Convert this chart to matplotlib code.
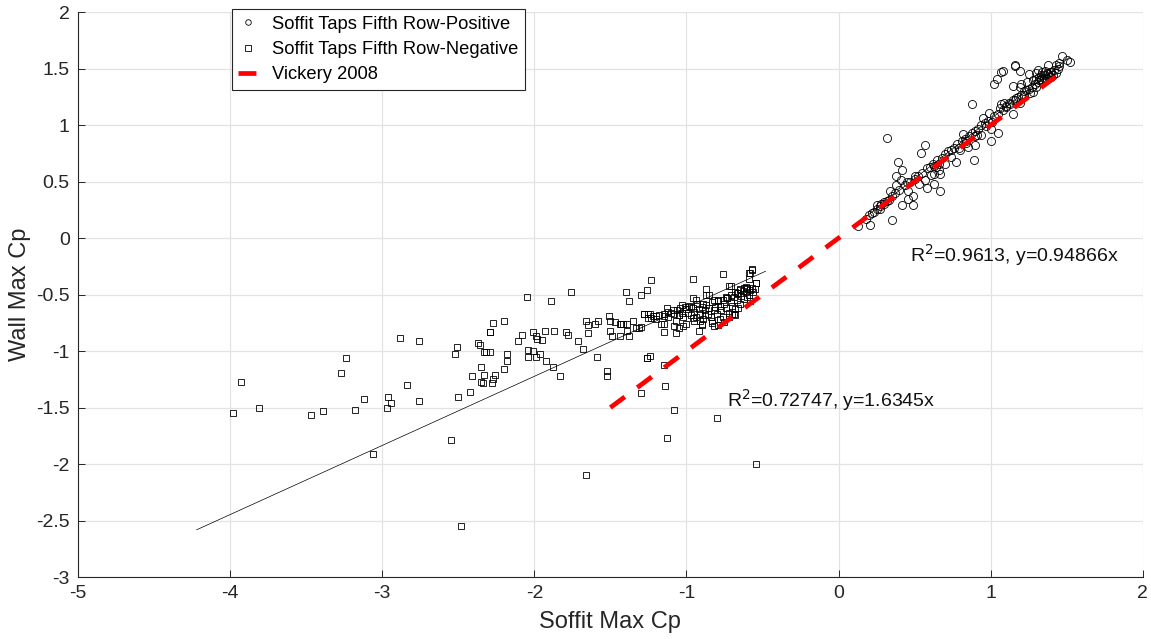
import matplotlib
matplotlib.use("Agg")
import matplotlib.pyplot as plt
import numpy as np

plt.rcParams['font.family'] = ['Liberation Sans', 'DejaVu Sans']

# ---- data ----
pos_x = [0.13, 0.21, 0.35, 0.32, 0.39, 0.42, 0.38, 0.41, 0.38, 0.45, 0.46, 0.46, 0.49, 0.42, 0.49,
         0.34, 0.33, 0.28, 0.25, 0.23, 0.27, 0.30, 0.54, 0.57, 0.53, 0.50, 0.58, 0.63, 0.67, 0.57,
         0.61, 0.64, 0.66, 0.67, 0.63, 0.77, 0.89, 0.80, 0.82, 0.84, 0.85, 0.90, 0.90, 0.94, 0.88,
         1.00, 1.05, 0.97, 1.00, 0.95, 0.99, 1.01, 1.06, 1.07, 1.09, 1.15, 1.12, 1.16, 1.19, 1.15,
         1.19, 1.02, 1.04, 1.07, 1.08, 1.16, 1.16, 1.19, 1.25, 1.24, 1.28, 1.30, 1.31, 1.33, 1.34,
         1.38, 1.37, 1.39, 1.40, 1.43, 1.45, 1.47, 1.52, 1.50, 1.32, 1.30, 1.23, 1.22, 1.26, 1.28,
         1.20, 1.17, 1.10,
         0.55, 0.58, 0.60, 0.62, 0.63, 0.65, 0.68, 0.70, 0.72, 0.74, 0.76, 0.78, 0.79, 0.81, 0.83,
         0.86, 0.88, 0.90, 0.92, 0.94, 0.96, 0.98, 1.02, 1.05, 1.08, 1.10, 1.13, 1.15, 1.18, 1.20,
         1.22, 1.25, 1.27, 1.29, 1.31, 1.33, 1.35, 1.36, 1.38, 1.40, 1.42, 1.44, 1.45, 0.50, 0.52,
         0.47, 0.44, 0.40, 0.37, 0.35, 0.32, 0.30, 0.27, 0.25, 0.22, 0.20, 0.18, 1.34, 1.37, 1.39,
         1.41, 1.43, 1.36, 1.32, 1.30, 0.66, 0.70, 0.74, 0.84, 0.91]
pos_y = [0.11, 0.12, 0.16, 0.89, 0.67, 0.60, 0.55, 0.51, 0.47, 0.50, 0.42, 0.35, 0.37, 0.29, 0.29,
         0.42, 0.34, 0.30, 0.29, 0.23, 0.26, 0.32, 0.75, 0.82, 0.48, 0.55, 0.44, 0.48, 0.42, 0.51,
         0.56, 0.63, 0.66, 0.57, 0.57, 0.67, 0.69, 0.78, 0.92, 0.84, 0.81, 0.82, 0.90, 0.91, 1.19,
         0.86, 0.93, 0.99, 0.97, 1.06, 1.11, 1.03, 1.15, 1.19, 1.20, 1.10, 1.20, 1.22, 1.20, 1.35,
         1.34, 1.36, 1.41, 1.47, 1.48, 1.53, 1.52, 1.48, 1.45, 1.38, 1.40, 1.46, 1.49, 1.44, 1.47,
         1.53, 1.46, 1.47, 1.43, 1.53, 1.55, 1.61, 1.56, 1.58, 1.40, 1.34, 1.31, 1.27, 1.28, 1.29,
         1.36, 1.24, 1.16,
         0.58, 0.62, 0.63, 0.66, 0.64, 0.69, 0.71, 0.74, 0.77, 0.78, 0.80, 0.83, 0.80, 0.86, 0.88,
         0.90, 0.93, 0.95, 0.97, 1.00, 1.02, 1.04, 1.08, 1.10, 1.13, 1.17, 1.19, 1.22, 1.25, 1.27,
         1.30, 1.32, 1.34, 1.36, 1.38, 1.41, 1.42, 1.44, 1.45, 1.47, 1.49, 1.50, 1.52, 0.52, 0.55,
         0.50, 0.47, 0.43, 0.40, 0.37, 0.33, 0.30, 0.28, 0.26, 0.22, 0.20, 0.17, 1.39, 1.41, 1.43,
         1.44, 1.46, 1.48, 1.43, 1.41, 0.60, 0.66, 0.72, 0.86, 0.91]

neg_x = [-3.98, -3.93, -3.81, -3.47, -3.39, -3.27, -3.24, -3.18, -3.12, -3.06, -2.96, -2.97, -2.94,
         -2.88, -2.84, -2.76, -2.76, -2.55, -2.52, -2.51, -2.50, -2.48, -2.41, -2.42, -2.37, -2.36,
         -2.35, -2.33, -2.32, -2.33, -2.35, -2.34, -2.29,
         -2.05, -1.89, -1.76, -1.40, -1.38, -1.30, -1.26, -2.27, -2.20, -2.29, -2.11, -2.08, -2.01,
         -1.99, -1.98, -1.95, -1.93, -1.87, -1.79, -1.78, -1.71, -1.68, -1.66, -1.65, -1.65, -1.60,
         -1.58, -1.51, -1.50, -1.47, -1.50, -1.49, -1.44, -1.43, -1.42, -1.39, -1.35, -1.44, -1.39,
         -1.38, -1.33, -1.31, -1.30, -1.28, -1.25, -1.25, -2.29, -2.18, -2.18, -2.20, -2.26, -2.27,
         -2.28, -2.04, -2.01, -2.04, -1.99, -1.96, -1.92, -1.88, -1.83, -1.59, -1.52, -1.52, -1.30,
         -1.26,
         -1.66, -1.26, -1.24, -1.15, -1.14, -1.08, -1.13, -0.80, -0.54,
         -1.23, -0.96, -0.76, -0.57, -0.58, -0.54, -0.87, -0.72, -0.96,
         -1.10, -1.08, -1.06, -1.05, -1.04, -1.03, -1.02, -1.00, -0.99, -0.98, -0.97, -0.96, -0.95,
         -0.94, -0.93, -0.92, -0.91, -0.90, -0.89, -0.88, -0.87, -0.86, -0.85, -0.84, -0.83, -0.82,
         -0.81, -0.80, -0.79, -0.78, -0.77, -0.76, -0.75, -0.74, -0.73, -0.72, -0.71, -0.70, -0.69,
         -0.68, -0.67, -0.66, -0.65, -0.64, -0.63, -0.62, -0.61, -0.60, -0.59, -0.58, -0.57, -0.56,
         -0.55, -0.65, -0.68, -0.71, -0.74, -0.62, -0.60, -0.70, -0.78, -0.83, -0.90, -1.07, -1.12,
         -1.15, -1.13, -1.18, -1.20, -1.22, -1.17, -1.05, -0.92, -0.82, -0.75, -0.88, -0.95, -1.00,
         -0.58, -0.66, -0.72,
         -0.87, -0.85, -0.54, -0.59, -0.57, -0.59, -0.69, -0.68, -0.79, -0.90, -1.08, -1.02, -1.07,
         -1.15, -1.28, -1.24, -1.23, -1.20, -1.15, -1.15, -1.12, -1.09, -1.05, -1.03, -1.01, -0.97,
         -0.94, -0.89, -0.96, -0.91, -0.83, -0.82, -0.79, -0.76, -0.73, -0.71, -0.65, -0.61, -0.60,
         -0.67]
neg_y = [-1.55, -1.27, -1.50, -1.57, -1.53, -1.19, -1.06, -1.52, -1.42, -1.91, -1.41, -1.50, -1.46,
         -0.88, -1.30, -0.91, -1.44, -1.79, -1.03, -0.96, -1.41, -2.55, -1.22, -1.36, -0.93, -0.95,
         -1.14, -1.01, -1.01, -1.21, -1.27, -1.28, -0.83,
         -0.52, -0.56, -0.48, -0.48, -0.56, -0.50, -0.46, -0.75, -0.73, -0.83, -0.91, -0.86, -0.83,
         -0.87, -0.89, -0.90, -0.82, -0.82, -0.83, -0.86, -0.91, -0.98, -0.73, -0.77, -0.84, -0.76,
         -0.73, -0.69, -0.73, -0.74, -0.82, -0.87, -0.76, -0.76, -0.76, -0.76, -0.73, -0.87, -0.82,
         -0.87, -0.80, -0.80, -0.79, -0.67, -0.67, -0.71, -1.01, -1.03, -1.09, -1.16, -1.21, -1.25,
         -1.28, -0.99, -1.00, -1.05, -1.05, -1.03, -1.09, -1.14, -1.22, -1.05, -1.18, -1.22, -1.37,
         -1.06,
         -2.10, -1.06, -1.04, -1.12, -1.31, -1.52, -1.77, -1.59, -2.00,
         -0.37, -0.36, -0.32, -0.28, -0.31, -0.40, -0.50, -0.42, -0.53,
         -0.66, -0.67, -0.64, -0.68, -0.62, -0.66, -0.70, -0.63, -0.66, -0.60, -0.68, -0.62, -0.65,
         -0.70, -0.58, -0.63, -0.67, -0.61, -0.72, -0.64, -0.59, -0.67, -0.62, -0.70, -0.57, -0.64,
         -0.61, -0.67, -0.55, -0.60, -0.64, -0.70, -0.58, -0.62, -0.53, -0.66, -0.57, -0.60, -0.52,
         -0.63, -0.55, -0.49, -0.58, -0.51, -0.47, -0.54, -0.48, -0.45, -0.50, -0.46, -0.44, -0.48,
         -0.45, -0.46, -0.48, -0.50, -0.52, -0.44, -0.52, -0.67, -0.72, -0.75, -0.76, -0.73, -0.70,
         -0.67, -0.62, -0.68, -0.72, -0.69, -0.76, -0.80, -0.82, -0.78, -0.74, -0.68, -0.73, -0.76,
         -0.56, -0.62, -0.70,
         -0.45, -0.50, -0.40, -0.31, -0.27, -0.36, -0.67, -0.68, -0.77, -0.77, -0.78, -0.78, -0.84,
         -0.83, -0.67, -0.67, -0.71, -0.69, -0.69, -0.76, -0.65, -0.64, -0.68, -0.59, -0.61, -0.61,
         -0.55, -0.58, -0.71, -0.73, -0.73, -0.55, -0.56, -0.55, -0.53, -0.42, -0.45, -0.43, -0.44,
         -0.49]

pos_slope = 0.94866   # x = slope * y
neg_slope = 1.6345
pos_fit_range = [0.10, 1.52]
neg_fit_range = [-4.22, -0.48]
vickery_range = [-1.5, 1.5]

xticks = [-5, -4, -3, -2, -1, 0, 1, 2]
yticks = [-3, -2.5, -2, -1.5, -1, -0.5, 0, 0.5, 1, 1.5, 2]

# ---- figure ----
fig = plt.figure(figsize=(11.51, 6.39), dpi=100)
ax = fig.add_axes([0.0678, 0.097, 0.925, 0.884])

ax.grid(True, color='#e3e3e3', linewidth=0.9)
ax.set_axisbelow(True)

ax.plot(pos_x, pos_y, linestyle='none', marker='o', markersize=5.8, markerfacecolor='none',
        markeredgecolor='black', markeredgewidth=0.6, label='Soffit Taps Fifth Row-Positive')
ax.plot(neg_x, neg_y, linestyle='none', marker='s', markersize=4.4, markerfacecolor='none',
        markeredgecolor='black', markeredgewidth=0.6, label='Soffit Taps Fifth Row-Negative')

fx = np.array(pos_fit_range)
ax.plot(fx, fx / pos_slope, color='black', linewidth=0.5)
nx = np.array(neg_fit_range)
ax.plot(nx, nx / neg_slope, color='black', linewidth=0.5)

vx = np.array(vickery_range)
ax.plot(vx, vx, color='#ff0000', linewidth=3.4, dashes=(3.8, 3.3), label='Vickery 2008')

ax.text(0.47, -0.15, r'R$^2$=0.9613, y=0.94866x', fontsize=14, color='#111111', va='center')
ax.text(-0.73, -1.43, r'R$^2$=0.72747, y=1.6345x', fontsize=14, color='#111111', va='center')

ax.set_xlim(-5, 2)
ax.set_ylim(-3, 2)
ax.set_xticks(xticks)
ax.set_yticks(yticks)
ax.set_xticklabels([f'{t:g}' for t in xticks])
ax.set_yticklabels([f'{t:g}' for t in yticks])
ax.tick_params(direction='in', length=5, width=0.7, colors='#262626', labelsize=14, pad=6)
for s in ['top', 'right']:
    ax.spines[s].set_visible(False)
for s in ['left', 'bottom']:
    ax.spines[s].set_color('#262626')
    ax.spines[s].set_linewidth(0.8)

ax.set_xlabel('Soffit Max Cp', fontsize=17, color='#262626', labelpad=6)
ax.set_ylabel('Wall Max Cp', fontsize=17, color='#262626', labelpad=4)

leg = ax.legend(loc='upper left', bbox_to_anchor=(0.1446, 1.005), fontsize=13.2, frameon=True,
                fancybox=False, edgecolor='#262626', framealpha=1, borderpad=0.35,
                labelspacing=0.45, handlelength=1.1, handletextpad=0.75, borderaxespad=0)
leg.get_frame().set_linewidth(0.8)
for h in leg.legend_handles[:2]:
    h.set_markersize(4)

fig.savefig('out.png', dpi=100)
